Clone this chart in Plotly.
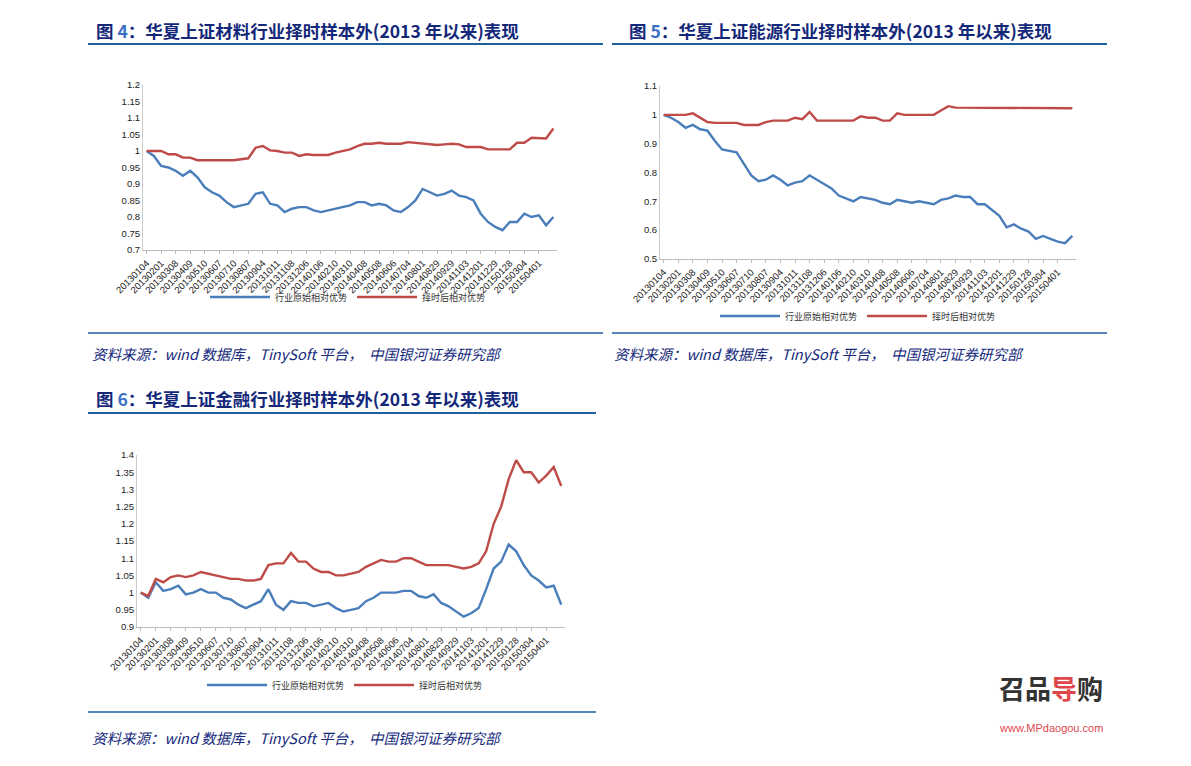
import plotly.graph_objects as go

# trading dates (monthly tick dates plus mid-month samples)
dates = ["20130104", "20130118", "20130201", "20130221", "20130308", "20130322", "20130409", "20130424",
         "20130510", "20130524", "20130607", "20130624", "20130710", "20130724", "20130807", "20130821",
         "20130904", "20130923", "20131011", "20131025", "20131108", "20131122", "20131206", "20131220",
         "20140106", "20140122", "20140210", "20140224", "20140310", "20140324", "20140408", "20140423",
         "20140508", "20140522", "20140606", "20140620", "20140704", "20140718", "20140801", "20140815",
         "20140829", "20140912", "20140929", "20141016", "20141103", "20141117", "20141201", "20141215",
         "20141229", "20150113", "20150128", "20150211", "20150304", "20150318", "20150401", "20150415",
         "20150430"]
tick_dates = dates[0:55:2]

mat_raw = [1.0, 0.985, 0.955, 0.95, 0.94, 0.925, 0.94, 0.92, 0.89, 0.875, 0.865, 0.845, 0.83, 0.835,
           0.84, 0.87, 0.875, 0.84, 0.835, 0.815, 0.825, 0.83, 0.83, 0.82, 0.815, 0.82, 0.825, 0.83,
           0.835, 0.845, 0.845, 0.835, 0.84, 0.835, 0.82, 0.815, 0.83, 0.85, 0.885, 0.875, 0.865, 0.87,
           0.88, 0.865, 0.86, 0.85, 0.81, 0.785, 0.77, 0.76, 0.785, 0.785, 0.81, 0.80, 0.805, 0.775, 0.80]
mat_timed = [1.0, 1.0, 1.0, 0.99, 0.99, 0.98, 0.98, 0.972, 0.972, 0.972, 0.972, 0.972, 0.972, 0.975,
             0.978, 1.01, 1.015, 1.002, 1.0, 0.995, 0.995, 0.985, 0.99, 0.988, 0.988, 0.988, 0.995, 1.0,
             1.005, 1.015, 1.022, 1.022, 1.025, 1.022, 1.022, 1.022, 1.027, 1.025, 1.022, 1.022, 1.018,
             1.02, 1.022, 1.02, 1.012, 1.012, 1.012, 1.005, 1.005, 1.005, 1.005, 1.025, 1.025, 1.04,
             1.038, 1.038, 1.068]

eng_raw = [1.0, 0.99, 0.975, 0.955, 0.965, 0.95, 0.945, 0.91, 0.88, 0.875, 0.87, 0.83, 0.79, 0.77,
           0.775, 0.79, 0.775, 0.755, 0.765, 0.77, 0.79, 0.775, 0.76, 0.745, 0.72, 0.71, 0.70, 0.715,
           0.71, 0.705, 0.695, 0.69, 0.705, 0.70, 0.695, 0.70, 0.695, 0.69, 0.705, 0.71, 0.72, 0.715,
           0.715, 0.69, 0.69, 0.67, 0.65, 0.61, 0.62, 0.605, 0.595, 0.57, 0.58, 0.57, 0.56, 0.555, 0.58]
eng_timed = [1.0, 1.0, 1.0, 1.0, 1.005, 0.99, 0.975, 0.972, 0.972, 0.972, 0.972, 0.965, 0.965, 0.965,
             0.975, 0.98, 0.98, 0.98, 0.99, 0.985, 1.01, 0.98, 0.98, 0.98, 0.98, 0.98, 0.98, 0.995,
             0.99, 0.99, 0.98, 0.98, 1.005, 1.0, 1.0, 1.0, 1.0, 1.0, 1.015, 1.03, 1.025, 1.025, 1.025,
             1.023, 1.023, 1.023, 1.023, 1.023, 1.023, 1.023, 1.023, 1.023, 1.023, 1.023, 1.023, 1.023,
             1.023]

fin_raw = [1.0, 0.985, 1.03, 1.005, 1.01, 1.02, 0.995, 1.0, 1.01, 1.0, 1.0, 0.985, 0.98, 0.965,
           0.955, 0.965, 0.975, 1.01, 0.965, 0.95, 0.975, 0.97, 0.97, 0.96, 0.965, 0.97, 0.955, 0.945,
           0.95, 0.955, 0.975, 0.985, 1.0, 1.0, 1.0, 1.005, 1.005, 0.99, 0.985, 0.995, 0.97, 0.96,
           0.945, 0.93, 0.94, 0.955, 1.01, 1.07, 1.09, 1.14, 1.12, 1.08, 1.05, 1.035, 1.015, 1.02, 0.965]
fin_timed = [1.0, 0.99, 1.04, 1.03, 1.045, 1.05, 1.045, 1.05, 1.06, 1.055, 1.05, 1.045, 1.04, 1.04,
             1.035, 1.035, 1.04, 1.08, 1.085, 1.085, 1.115, 1.09, 1.09, 1.07, 1.06, 1.06, 1.05, 1.05,
             1.055, 1.06, 1.075, 1.085, 1.095, 1.09, 1.09, 1.1, 1.1, 1.09, 1.08, 1.08, 1.08, 1.08,
             1.075, 1.07, 1.075, 1.085, 1.12, 1.2, 1.25, 1.33, 1.385, 1.35, 1.35, 1.32, 1.34, 1.365, 1.31]

panels = [
    ("x", "y", "legend", mat_raw, mat_timed),
    ("x2", "y2", "legend2", eng_raw, eng_timed),
    ("x3", "y3", "legend3", fin_raw, fin_timed),
]
names = ["行业原始相对优势", "择时后相对优势"]
BLUE, RED = "#4a7ebb", "#be4b48"

W, H = 1191, 766
OFF = 8  # page body margin
def fx(x):
    return (x - OFF) / W
def fy(y):
    return 1 - (y - OFF) / H
def px(x0, x1):
    return [fx(x0), fx(x1)]
def py(y0, y1):  # top, bottom pixel
    return [fy(y1), fy(y0)]

fig = go.Figure()
for xa, ya, lg, raw, timed in panels:
    fig.add_trace(go.Scatter(x=dates, y=raw, name=names[0], xaxis=xa, yaxis=ya, legend=lg,
                             mode="lines", line=dict(color=BLUE, width=2.4)))
    fig.add_trace(go.Scatter(x=dates, y=timed, name=names[1], xaxis=xa, yaxis=ya, legend=lg,
                             mode="lines", line=dict(color=RED, width=2.4)))

axfont = dict(family="Liberation Sans, Arial", size=9.5, color="#222")
def xax(dom, anchor):
    return dict(domain=dom, anchor=anchor, type="category", tickmode="array", tickvals=tick_dates,
                tickangle=-45, tickfont=axfont, showgrid=False, showline=True, linecolor="#bbb",
                ticks="outside", ticklen=3, tickcolor="#bbb", range=[-0.5, len(dates) - 0.5],
                automargin=False)
def yax(dom, anchor, rng, dt):
    return dict(domain=dom, anchor=anchor, range=rng, dtick=dt, tickfont=axfont, showgrid=False,
                showline=True, linecolor="#ccc", ticks="", zeroline=False, automargin=False)

legfont = dict(family="Noto Sans CJK SC", size=9, color="#333")
def leg(x, y):
    return dict(x=fx(x), y=fy(y), xanchor="center", yanchor="middle", orientation="h",
                font=legfont, bgcolor="rgba(0,0,0,0)", itemwidth=60)

fig.update_layout(
    width=W, height=H, margin=dict(l=0, r=0, t=0, b=0, autoexpand=False),
    paper_bgcolor="white", plot_bgcolor="white",
    xaxis=xax(px(143, 557), "y"), yaxis=yax(py(85, 250), "x", [0.7, 1.2], 0.05),
    xaxis2=xax(px(660, 1076), "y2"), yaxis2=yax(py(86, 259), "x2", [0.5, 1.1], 0.1),
    xaxis3=xax(px(137, 565), "y3"), yaxis3=yax(py(455, 627), "x3", [0.9, 1.4], 0.05),
    legend=leg(348, 297), legend2=leg(858, 316), legend3=leg(345, 685),
)

title_font = dict(family="Noto Sans CJK SC", size=17.5, color="#14287a")
titles = [(94, 30, "<b>图 <span style='color:#3a6fc4'>4</span>：华夏上证材料行业择时样本外(2013 年以来)表现</b>"),
          (627, 30, "<b>图 <span style='color:#3a6fc4'>5</span>：华夏上证能源行业择时样本外(2013 年以来)表现</b>"),
          (94, 398, "<b>图 <span style='color:#3a6fc4'>6</span>：华夏上证金融行业择时样本外(2013 年以来)表现</b>")]
for x, y, t in titles:
    fig.add_annotation(x=fx(x), y=fy(y), xref="paper", yref="paper", text=t, showarrow=False,
                       xanchor="left", yanchor="middle", font=title_font)

src = "<i>资料来源：wind 数据库，TinySoft 平台，  中国银河证券研究部</i>"
for x, y in [(90, 354), (612, 354), (90, 737)]:
    fig.add_annotation(x=fx(x), y=fy(y), xref="paper", yref="paper", text=src, showarrow=False,
                       xanchor="left", yanchor="middle",
                       font=dict(family="Noto Sans CJK SC", size=14.5, color="#14287a"))

for x0, x1, y, c, w in [(88, 603, 44, "#1f5fa0", 2), (612, 1107, 44, "#1f5fa0", 2),
                        (88, 596, 413, "#1f5fa0", 2), (88, 603, 333, "#1f5fa0", 1.5),
                        (612, 1107, 333, "#1f5fa0", 1.5), (88, 596, 712, "#1f5fa0", 1.5)]:
    fig.add_shape(type="line", xref="paper", yref="paper", x0=fx(x0), x1=fx(x1),
                  y0=fy(y), y1=fy(y), line=dict(color=c, width=w))

# watermark logo
fig.add_annotation(x=fx(1105), y=fy(708), xref="paper", yref="paper", showarrow=False,
                   text="<b>召品<span style='color:#e0474c'>导</span>购</b>",
                   font=dict(family="Noto Sans CJK SC", size=26, color="#333"))
fig.add_annotation(x=fx(1105), y=fy(736), xref="paper", yref="paper", showarrow=False,
                   text="www.MPdaogou.com",
                   font=dict(family="Liberation Sans", size=11, color="#e0474c"))

fig.write_html("out.html")
